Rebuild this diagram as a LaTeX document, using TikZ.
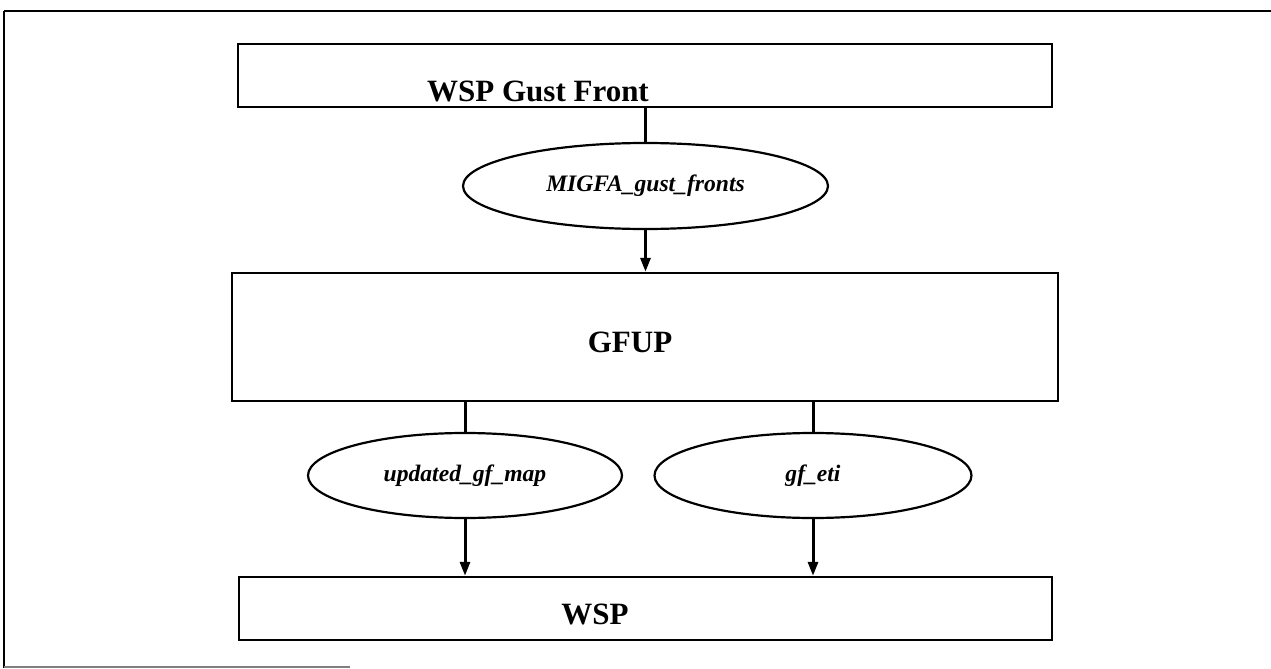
\documentclass[tikz,border=0pt]{standalone}
\usepackage{fontspec}
\setmainfont{Liberation Serif}
\usetikzlibrary{shapes.geometric,arrows.meta}

\begin{document}
\begin{tikzpicture}[x=0.5pt, y=-0.5pt, thick, >={Triangle[length=7pt,width=5pt]},
        box/.style = {draw, line width=1.2pt, rectangle, inner sep=0pt},
        oval/.style = {draw, line width=1.1pt, ellipse, inner sep=0pt, font=\fontsize{11.8}{14}\selectfont\bfseries\itshape},
        title/.style = {anchor=base, inner sep=0pt, font=\fontsize{15.5}{18}\selectfont\bfseries}]
        \useasboundingbox (0,0) rectangle (1271,669);

        % frame
        \draw[line width=1.4pt] (4,11) -- (1271,11);
        \draw[line width=1.2pt] (4,11) -- (4,668);
        \draw[line width=1pt, gray] (4,667) -- (350,667);

        \node[box, minimum width=407pt, minimum height=31.5pt] (1) at (645,75.5) {};
        \node[title] (1t) at (538,101) {WSP Gust Front};
        \node[oval, minimum width=182.5pt, minimum height=43pt] (2) at (645.5,186) {MIGFA\_gust\_fronts};
        \node[box, minimum width=413pt, minimum height=64pt] (3) at (645,337) {};
        \node[title] (3t) at (630,352) {GFUP};
        \node[oval, minimum width=157pt, minimum height=42.5pt] (4) at (465,475.5) {updated\_gf\_map};
        \node[oval, minimum width=158.5pt, minimum height=42.5pt] (5) at (813,475.5) {gf\_eti};
        \node[box, minimum width=406.5pt, minimum height=31.5pt] (6) at (645.5,608.5) {};
        \node[title] (6t) at (595,624) {WSP};

        \draw[line width=1.5pt] (1.south -| 2) -- (2);
        \draw[->, line width=1.5pt] (2) -- (3.north -| 2);
        \draw[line width=1.5pt] (3.south -| 4) -- (4);
        \draw[line width=1.5pt] (3.south -| 5) -- (5);
        \draw[->, line width=1.5pt] (4) -- (6.north -| 4);
        \draw[->, line width=1.5pt] (5) -- (6.north -| 5);

    \end{tikzpicture}
\end{document}
